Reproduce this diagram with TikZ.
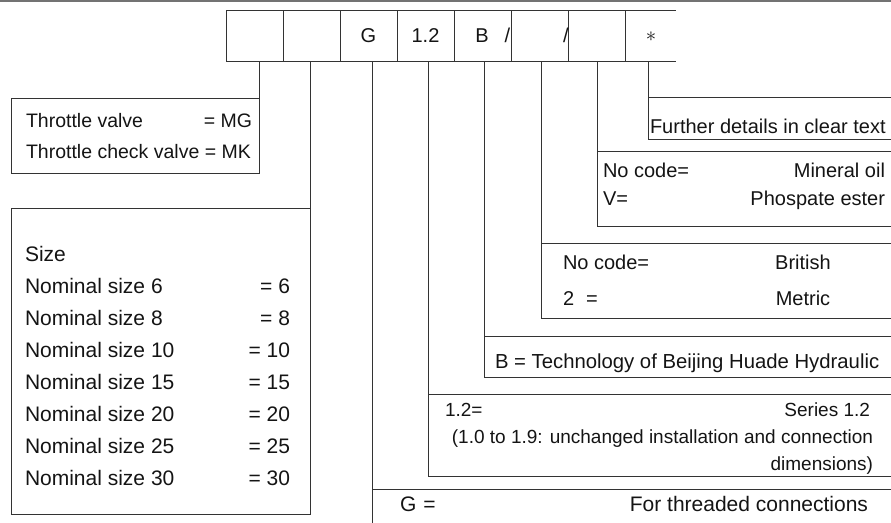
\documentclass[tikz,border=0pt]{standalone}
\usepackage{fontspec}
\setmainfont{Liberation Sans}
\begin{document}
\begin{tikzpicture}[x=1pt,y=-1pt,
  line width=0.9pt,
  ln/.style={draw=black!80},
  fs/.style={font=\fontsize{#1}{#1}\selectfont},
  txt/.style={inner sep=0pt, outer sep=0pt, fs=20, text=black!92},
  cbox/.style={draw=black!80, minimum width=57, minimum height=51, inner sep=0pt, outer sep=0pt, anchor=north west},
  dbox/.style={draw=black!80, inner sep=0pt, outer sep=0pt, anchor=north west},
  tl/.style={txt, anchor=base west},
  tr/.style={txt, anchor=base east},
  tc/.style={txt, anchor=base}
]
\clip (0,0) rectangle (891,522);
\coordinate (topL) at (0,1);
\coordinate (topR) at (891,1);
\draw[black!55, line width=2.2pt] (topL) -- (topR);

% code boxes
\node[cbox] (c1) at (226,10) {};
\node[cbox] (c2) at (283,10) {};
\node[cbox] (c3) at (340,10) {};
\node[cbox] (c4) at (397,10) {};
\node[cbox] (c5) at (454,10) {};
\node[cbox] (c6) at (511,10) {};
\node[cbox] (c7) at (568,10) {};
\node[cbox, draw=none, minimum width=51] (c8) at (625,10) {};
\draw[ln] (c8.north west) -- (c8.north east);
\draw[ln] (c8.south west) -- (c8.south east);

\node[tc] (tG) at (368.5,42) {G};
\node[tc] (t12) at (425.5,42) {1.2};
\node[tc] (tB) at (482,42) {B};
\node[tc] (s1) at (507.5,42) {/};
\node[tc] (s2) at (566,42) {/};
\node[txt, fs=22] (st) at (651,37) {$\ast$};

% description boxes
\node[dbox, minimum width=248, minimum height=75] (thr) at (11,98) {};
\node[dbox, minimum width=299, minimum height=306] (size) at (11,208) {};
\node[dbox, minimum width=260, minimum height=42] (det) at (648,97) {};
\node[dbox, minimum width=310, minimum height=75] (oil) at (597,151) {};
\node[dbox, minimum width=370, minimum height=75] (brit) at (541,243) {};
\node[dbox, minimum width=420, minimum height=41] (bb) at (484,336) {};
\node[dbox, minimum width=480, minimum height=82] (ser) at (428,394) {};
\node[dbox, minimum width=540, minimum height=60] (gb) at (372,489) {};

% connectors
\draw[ln] (c1.south -| thr.east) -- (thr.north east);
\draw[ln] (c2.south -| size.east) -- (size.north east);
\draw[ln] (c3.south -| gb.west) -- (gb.north west);
\draw[ln] (c4.south -| ser.west) -- (ser.north west);
\draw[ln] (c5.south -| bb.west) -- (bb.north west);
\draw[ln] (c6.south -| brit.west) -- (brit.north west);
\draw[ln] (c7.south -| oil.west) -- (oil.north west);
\draw[ln] (c8.south -| det.west) -- (det.north west);

% throttle
\node[tl, fs=19.5] (th1) at (26,127) {Throttle valve};
\node[tr, fs=19.5] (th1r) at (252,127) {= MG};
\node[tl, fs=19.5] (th2) at (26,158) {Throttle check valve = MK};

% size
\node[tl, fs=21] (sz) at (25,261) {Size};
\foreach \n/\v [count=\i from 0] in {6/6,8/8,10/10,15/15,20/20,25/25,30/30}{
  \node[tl, fs=21] (szl\i) at (25,293+32*\i) {Nominal size \n};
  \node[tr, fs=21] (szr\i) at (290,293+32*\i) {= \v};
}

% right side
\node[tl] (dt) at (650,133) {Further details in clear text};
\node[tl] (o1) at (603,177) {No code=};
\node[tr] (o1r) at (885,177) {Mineral oil};
\node[tl] (o2) at (603,205) {V=};
\node[tr] (o2r) at (885,205) {Phospate ester};
\node[tl] (b1) at (563,269) {No code=};
\node[tc] (b1r) at (803,269) {British};
\node[tl] (b2) at (563,305) {2\hspace{12pt}=};
\node[tc] (b2r) at (803,305) {Metric};
\node[tl, fs=20.3] (bt) at (495,368) {B = Technology of Beijing Huade Hydraulic};
\node[tl, fs=19] (s1l) at (445,416) {1.2=};
\node[tr, fs=19] (s1r) at (870,416) {Series 1.2};
\node[tr, fs=19] (s2r) at (873,443) {(1.0 to 1.9: unchanged installation and connection};
\node[tr, fs=19] (s3r) at (873,470) {dimensions)};
\node[tl, fs=21] (gl) at (400,511) {G\hspace{7pt}=};
\node[tr, fs=21] (gr) at (868,511) {For threaded connections};
\end{tikzpicture}
\end{document}
